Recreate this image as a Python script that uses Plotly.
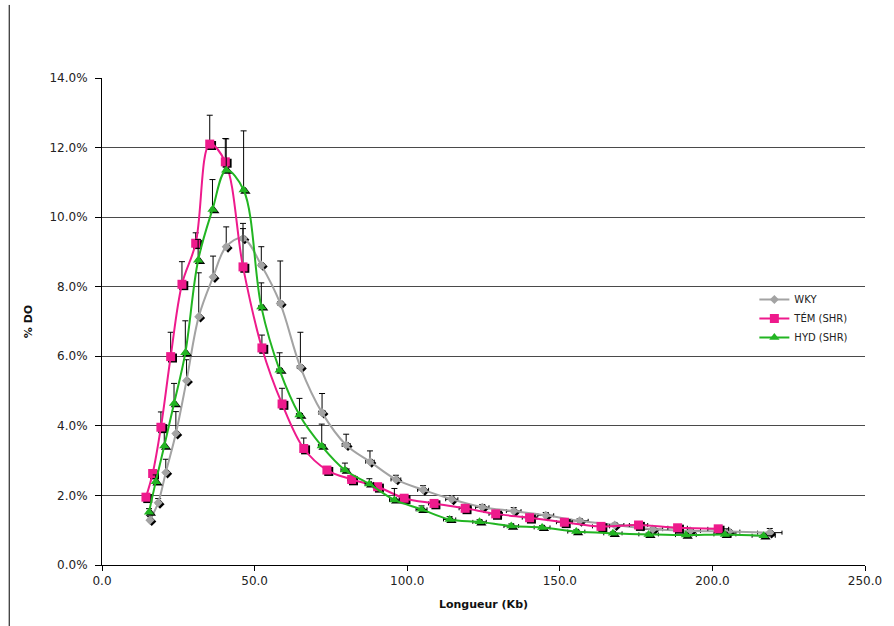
import plotly.graph_objects as go

# ---------------- data ----------------
wky_x = [15.7, 18.4, 20.9, 24.2, 27.7, 31.7, 36.4, 40.7, 46.2, 52.2, 58.4, 65.0, 72.1, 80.0,
         87.8, 96.3, 105.2, 114.6, 124.6, 134.9, 145.4, 156.5, 168.0, 180.5, 192.7, 205.4, 218.8]
wky_y = [1.29, 1.79, 2.66, 3.78, 5.30, 7.14, 8.28, 9.15, 9.39, 8.62, 7.52, 5.69, 4.38, 3.45,
         2.97, 2.46, 2.16, 1.89, 1.66, 1.55, 1.43, 1.27, 1.15, 1.03, 0.98, 0.96, 0.93]
wky_err = [0.10, 0.12, 0.38, 0.63, 0.60, 1.26, 0.60, 0.57, 0.43, 0.53, 1.22, 1.00, 0.55, 0.31,
           0.31, 0.12, 0.12, 0.10, 0.08, 0.10, 0.08, 0.06, 0.05, 0.05, 0.05, 0.05, 0.12]
wky_xerr = [0.2, 0.2, 0.3, 0.3, 0.4, 0.5, 0.5, 0.6, 0.7, 0.8, 0.9, 1.0, 1.1, 1.3,
            1.4, 1.6, 1.8, 2.0, 2.2, 2.4, 2.6, 2.8, 3.0, 3.2, 3.4, 3.6, 4.0]

tem_x = [14.4, 16.6, 19.3, 22.5, 26.2, 30.7, 35.3, 40.4, 46.2, 52.4, 59.0, 66.1, 73.7, 81.8,
         90.3, 99.0, 108.8, 119.0, 129.0, 140.1, 151.5, 163.5, 175.8, 188.6, 201.9]
tem_y = [1.95, 2.63, 3.96, 5.99, 8.07, 9.25, 12.10, 11.59, 8.57, 6.24, 4.63, 3.35, 2.73, 2.46,
         2.25, 1.92, 1.77, 1.63, 1.47, 1.36, 1.23, 1.11, 1.15, 1.07, 1.04]
tem_err = [0.05, 0.10, 0.44, 0.70, 0.65, 0.30, 0.83, 0.67, 1.10, 0.37, 0.45, 0.30, 0.10, 0.08,
           0.08, 0.06, 0.06, 0.05, 0.05, 0.05, 0.05, 0.04, 0.04, 0.04, 0.04]
tem_xerr = [0.2, 0.2, 0.3, 0.3, 0.4, 0.5, 0.5, 0.6, 0.7, 0.8, 0.9, 1.0, 1.1, 1.3,
            1.4, 1.6, 1.8, 2.0, 2.2, 2.4, 2.6, 2.8, 3.0, 3.2, 3.4]

hyd_x = [15.4, 17.6, 20.4, 23.6, 27.3, 31.5, 36.2, 40.7, 46.4, 52.2, 58.2, 64.7, 72.0, 79.6,
         87.6, 95.8, 104.7, 113.9, 123.7, 134.1, 144.2, 155.4, 167.4, 179.1, 191.3, 204.1, 216.8]
hyd_y = [1.52, 2.39, 3.42, 4.64, 6.10, 8.76, 10.22, 11.35, 10.78, 7.42, 5.60, 4.31, 3.42, 2.73,
         2.33, 1.87, 1.60, 1.31, 1.24, 1.12, 1.08, 0.96, 0.91, 0.88, 0.86, 0.88, 0.84]
hyd_err = [0.10, 0.20, 0.40, 0.58, 0.92, 0.60, 0.86, 0.90, 1.70, 0.69, 0.50, 0.48, 0.63, 0.20,
           0.15, 0.33, 0.10, 0.08, 0.06, 0.06, 0.05, 0.05, 0.04, 0.04, 0.04, 0.04, 0.04]
hyd_xerr = [0.2, 0.2, 0.3, 0.3, 0.4, 0.5, 0.5, 0.6, 0.7, 0.8, 0.9, 1.0, 1.1, 1.3,
            1.4, 1.6, 1.8, 2.0, 2.2, 2.4, 2.6, 2.8, 3.0, 3.2, 3.4, 3.6, 3.8]

series = [
    ("WKY", wky_x, wky_y, wky_err, wky_xerr, "#A3A3A3", "diamond", 7),
    ("TÉM (SHR)", tem_x, tem_y, tem_err, tem_xerr, "#EE1A8C", "square", 9),
    ("HYD (SHR)", hyd_x, hyd_y, hyd_err, hyd_xerr, "#22B522", "triangle-up", 9),
]

FONT = "DejaVu Sans, Verdana, sans-serif"

fig = go.Figure()

for name, xs, ys, err, xerr, color, sym, size in series:
    yv = [v / 100 for v in ys]
    # error bars (upwards) drawn under the series
    fig.add_trace(go.Scatter(
        x=xs, y=yv, mode="markers", showlegend=False, hoverinfo="skip",
        marker=dict(size=1, color="rgba(0,0,0,0)"),
        error_y=dict(type="data", symmetric=False, array=[e / 100 for e in err],
                     arrayminus=[0] * len(err), color="black", thickness=1, width=3),
        error_x=dict(type="data", array=xerr, color="black", thickness=1, width=2),
    ))
    # dark shadow of the markers
    fig.add_trace(go.Scatter(
        x=[v + 0.6 for v in xs], y=[v - 0.0004 for v in yv], mode="markers",
        showlegend=False, hoverinfo="skip",
        marker=dict(symbol=sym, size=size, color="black"),
    ))
    fig.add_trace(go.Scatter(
        x=xs, y=yv, name=name, mode="lines+markers",
        line=dict(color=color, width=2, shape="spline", smoothing=1.0),
        marker=dict(symbol=sym, size=size, color=color),
    ))

fig.update_layout(
    width=894, height=626,
    margin=dict(l=102, r=27, t=78, b=61),
    paper_bgcolor="white", plot_bgcolor="white",
    font=dict(family=FONT, size=12, color="#222"),
    showlegend=True,
    legend=dict(x=0.855, y=0.575, xanchor="left", yanchor="top",
                font=dict(size=10, family=FONT, color="#222"),
                bgcolor="rgba(0,0,0,0)", tracegroupgap=0, itemwidth=30),
    xaxis=dict(range=[0, 250], dtick=50, tick0=0, tickformat=".1f",
               showgrid=False, zeroline=False, showline=True, linecolor="black",
               linewidth=1, ticks="outside", ticklen=5, tickcolor="black",
               tickfont=dict(size=12, family=FONT, color="#222"),
               title=dict(text="<b>Longueur (Kb)</b>", font=dict(size=11, family=FONT, color="#111"),
                          standoff=12)),
    yaxis=dict(range=[0, 0.14], dtick=0.02, tick0=0, tickformat=".1%",
               showgrid=True, gridcolor="#4a4a4a", gridwidth=1,
               zeroline=False, showline=True, linecolor="black", linewidth=1,
               ticks="outside", ticklen=6, tickcolor="black", ticklabelstandoff=5,
               tickfont=dict(size=12, family=FONT, color="#222"),
               title=dict(text="<b>% DO</b>", font=dict(size=11, family=FONT, color="#111"),
                          standoff=14)),
    shapes=[dict(type="line", xref="paper", yref="paper",
                 x0=-0.1216, x1=-0.1216, y0=-0.13, y1=1.15,
                 line=dict(color="black", width=1))],
)

fig.write_html("out.html")
